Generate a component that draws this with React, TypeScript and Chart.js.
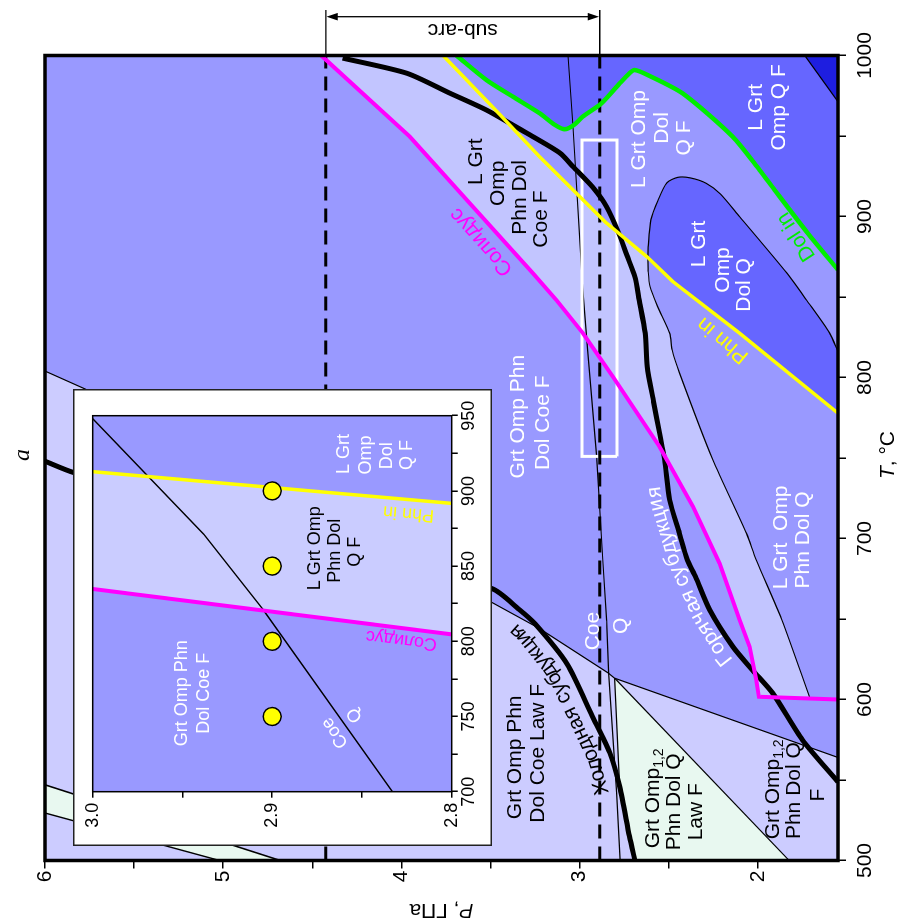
import React, { useEffect, useRef } from 'react';
import { Chart, registerables } from 'chart.js';

Chart.register(...registerables);

type Pt = [number, number]; // [T, °C ; P, GPa]

// ---------- axes ----------
const T_RANGE: Pt = [500, 1000];
const P_RANGE: Pt = [1.55, 6];
const T_TICKS = [500, 550, 600, 650, 700, 750, 800, 850, 900, 950, 1000];
const P_TICKS = [2, 2.5, 3, 3.5, 4, 4.5, 5, 5.5, 6];

const INSET_T_RANGE: Pt = [700, 950];
const INSET_P_RANGE: Pt = [2.8, 3.0];
const INSET_T_TICKS = [700, 725, 750, 775, 800, 825, 850, 875, 900, 925, 950];
const INSET_P_TICKS = [2.8, 2.85, 2.9, 2.95, 3.0];

// ---------- main diagram curves ----------
const SOLIDUS: Pt[] = [[1000, 4.45], [949.6, 3.953], [906, 3.598], [864.7, 3.261], [848, 3.13], [827.5, 2.981], [800.5, 2.813], [757, 2.551], [719.8, 2.364], [684.5, 2.214], [649.4, 2.102], [632.8, 2.046], [612.1, 2.009], [601.7, 1.994], [600, 1.55]];
const PHN_HIGH: Pt[] = [[1000, 3.766], [963.4, 3.448], [937, 3.224], [896, 2.85], [874.5, 2.617]];
const PHN_LOW: Pt[] = [[874.5, 2.617], [859.5, 2.476], [827.5, 2.102], [777.8, 1.55]];
const DOL_IN: Pt[] = [[1000, 3.691], [984.8, 3.523], [974.4, 3.374], [964.1, 3.224], [957, 3.14], [954.2, 3.084], [957, 3.03], [962, 2.983], [970, 2.88], [982.7, 2.775], [989, 2.72], [991, 2.691], [988, 2.62], [976.5, 2.422], [949.6, 2.141], [928.9, 1.99], [916.5, 1.906], [889.8, 1.721], [866.8, 1.55]];
const HOT_SUB: Pt[] = [[998.4, 4.33], [989, 3.97], [976.7, 3.73], [966, 3.52], [952, 3.3], [939.4, 3.11], [931, 3.037], [918.3, 2.927], [906, 2.848], [889.6, 2.78], [876, 2.735], [862.6, 2.69], [848, 2.665], [827.6, 2.632], [806.7, 2.62], [785, 2.585], [765.4, 2.551], [748.8, 2.523], [724, 2.495], [703.3, 2.44], [686.6, 2.395], [676.3, 2.35], [655.6, 2.27], [632.8, 2.14], [618.3, 2.03], [604, 1.917], [574.8, 1.749], [548.8, 1.55]];
const COLD_SUB: Pt[] = [[748, 6.0], [741, 5.84], [669, 3.495], [656, 3.34], [647, 3.25], [622, 3.07], [590, 2.93], [567, 2.831], [545.8, 2.775], [515, 2.72], [500, 2.69]];
const COE_Q: Pt[] = [[1000, 3.065], [955.8, 3.037], [856, 2.983], [817, 2.955], [751, 2.904], [687, 2.87], [649, 2.848], [616.5, 2.837], [542, 2.792], [500, 2.773]];
const ELLIPSE_UPPER: Pt[] = [[816, 1.55], [827.6, 1.597], [848, 1.726], [865, 1.838], [899.9, 2.102], [914, 2.21], [920.6, 2.289], [924, 2.38], [924.3, 2.45], [921, 2.51], [910, 2.56], [898, 2.6], [881, 2.615], [874.5, 2.617]];
const ELLIPSE_LOWER: Pt[] = [[874.5, 2.617], [866, 2.615], [856.6, 2.605], [844, 2.562], [827.6, 2.495], [817, 2.48], [803, 2.44], [749, 2.253], [703, 2.063], [687, 2.01], [650, 1.867], [601.6, 1.71]];
const LAW_UPPER: Pt[] = [[804, 6.0], [792.9, 5.776], [660, 3.487], [644, 3.224], [616.5, 2.84]];
const LAW_RIGHT: Pt[] = [[616.5, 2.84], [613.2, 2.803], [564, 1.55]];
const MINT_LEFT: Pt[] = [[613.2, 2.803], [545.8, 2.775]];
const MINT_RIGHT: Pt[] = [[613.2, 2.803], [500, 1.824]];
const BAND_A: Pt[] = [[547, 6.0], [500, 4.68]];
const BAND_B: Pt[] = [[529.5, 6.0], [500, 5.02]];
const CORNER: Pt[] = [[1000, 1.737], [971.3, 1.55]];
const SUBARC_P = [4.424, 2.887];
const BOX_T = [751, 947.5];
const BOX_P = [2.79, 2.987];

// ---------- inset ----------
const INSET_SOLIDUS: Pt[] = [[834.8, 3.0], [804.6, 2.8]];
const INSET_PHN_IN: Pt[] = [[912.8, 3.0], [891.7, 2.8]];
const INSET_COE_Q: Pt[] = [[948, 3.0], [871, 2.938], [821, 2.905], [700, 2.833]];
const RUN_T = [750, 800, 850, 900];
const RUN_P = [2.9, 2.9, 2.9, 2.9];

// ---------- styles ----------
const FONT = '"Liberation Sans", Arial, Helvetica, sans-serif';
const C_MED = '#9999FF';
const C_LIGHT = '#C2C5FF';
const C_LAV = '#CCCCFF';
const C_DARK = '#6666FF';
const C_VDARK = '#1E1EE0';
const C_MINT = '#E8F8F0';
const C_MAG = '#FF00FF';
const C_YEL = '#FFFF00';
const C_GRN = '#00EE00';
const W = '#FFFFFF';
const K = '#000000';

type Part = { t: string; sub?: boolean; it?: boolean };
type Label = { parts: string | Part[]; T: number; P: number; color: string; angle?: number };

const MAIN_LABELS: Label[] = [
  { parts: 'L Grt', T: 934.0, P: 3.579, color: K },
  { parts: 'Omp', T: 920.6, P: 3.458, color: K },
  { parts: 'Phn Dol', T: 911.9, P: 3.336, color: K },
  { parts: 'Coe F', T: 898.4, P: 3.214, color: K },
  { parts: 'L Grt Omp', T: 948.1, P: 2.663, color: W },
  { parts: 'Dol', T: 955.0, P: 2.534, color: W },
  { parts: 'Q F', T: 948.8, P: 2.411, color: W },
  { parts: 'L Grt', T: 967.8, P: 2.008, color: W },
  { parts: 'Omp Q F', T: 967.8, P: 1.878, color: W },
  { parts: 'L Grt', T: 882.9, P: 2.327, color: W },
  { parts: 'Omp', T: 866.8, P: 2.196, color: W },
  { parts: 'Dol Q', T: 857.5, P: 2.074, color: W },
  { parts: 'Grt Omp Phn', T: 775.7, P: 3.345, color: W },
  { parts: 'Dol Coe F', T: 771.9, P: 3.205, color: W },
  { parts: 'L Grt  Omp', T: 700.7, P: 1.868, color: W },
  { parts: 'Phn Dol Q', T: 699.1, P: 1.747, color: W },
  { parts: 'Coe', T: 642.5, P: 2.921, color: W },
  { parts: 'Q', T: 645.7, P: 2.766, color: W },
  { parts: 'Grt Omp Phn', T: 564.1, P: 3.364, color: K },
  { parts: 'Dol Coe Law F', T: 566.6, P: 3.233, color: K },
  { parts: [{ t: 'Grt Omp' }, { t: '1,2', sub: true }], T: 538.6, P: 2.588, color: K },
  { parts: 'Phn Dol Q', T: 536.5, P: 2.467, color: K },
  { parts: 'Law F', T: 530.3, P: 2.345, color: K },
  { parts: [{ t: 'Grt Omp' }, { t: '1,2', sub: true }], T: 544.2, P: 1.915, color: K },
  { parts: 'Phn Dol Q', T: 543.4, P: 1.794, color: K },
  { parts: 'F', T: 540.7, P: 1.663, color: K },
  { parts: 'Солидус', T: 884.3, P: 3.551, color: C_MAG, angle: -42 },
  { parts: 'Phn in', T: 823.3, P: 2.196, color: C_YEL, angle: -50 },
  { parts: 'Dol in', T: 887.5, P: 1.784, color: C_GRN, angle: -33 },
];

const INSET_LABELS: Label[] = [
  { parts: 'L Grt', T: 924.5, P: 2.86, color: W },
  { parts: 'Omp', T: 923.9, P: 2.848, color: W },
  { parts: 'Dol', T: 923.3, P: 2.836, color: W },
  { parts: 'Q F', T: 923.9, P: 2.825, color: W },
  { parts: 'L Grt Omp', T: 861.8, P: 2.876, color: K },
  { parts: 'Phn Dol', T: 860.2, P: 2.865, color: K },
  { parts: 'Q F', T: 859.6, P: 2.854, color: K },
  { parts: 'Grt Omp Phn', T: 765.4, P: 2.95, color: W },
  { parts: 'Dol Coe F', T: 765.4, P: 2.938, color: W },
  { parts: 'Coe', T: 739.2, P: 2.865, color: W, angle: -35 },
  { parts: 'Q', T: 751, P: 2.854, color: W, angle: -35 },
  { parts: 'Phn in', T: 885.1, P: 2.824, color: C_YEL, angle: -85 },
  { parts: 'Солидус', T: 800.9, P: 2.828, color: C_MAG, angle: -83 },
];

const CURVE_LABELS = [
  { text: 'Горячая субдукция', curve: HOT_SUB, startT: 628, offset: 8, color: W },
  { text: 'Холодная субдукция', curve: COLD_SUB, startT: 544, offset: 12, color: K },
];

// ---------- helpers ----------
const xy = (a: Pt[]) => a.map(([t, p]) => ({ x: t, y: p }));

function lineDs(data: Pt[], color: string, width: number, order: number, extra: any = {}) {
  return {
    data: xy(data), borderColor: color, borderWidth: width, pointRadius: 0, fill: false, order,
    tension: 0, borderJoinStyle: 'round', borderCapStyle: 'butt', ...extra,
  };
}
function polyDs(data: Pt[], color: string, order: number) {
  return {
    data: xy(data), borderColor: 'rgba(0,0,0,0)', borderWidth: 1, backgroundColor: color,
    pointRadius: 0, fill: 'shape', order, tension: 0,
  };
}

function drawRich(ctx: CanvasRenderingContext2D, parts: Part[], x: number, y: number, size: number, color: string, angle = 0, family = FONT) {
  ctx.save();
  ctx.translate(x, y);
  ctx.rotate((angle * Math.PI) / 180);
  ctx.fillStyle = color;
  ctx.textBaseline = 'middle';
  ctx.textAlign = 'left';
  const fontOf = (p: Part) => `${p.it ? 'italic ' : ''}${p.sub ? Math.round(size * 0.68) : size}px ${family}`;
  const widths = parts.map((p) => { ctx.font = fontOf(p); return ctx.measureText(p.t).width; });
  const total = widths.reduce((a, b) => a + b, 0);
  let cx = -total / 2;
  parts.forEach((p, i) => {
    ctx.font = fontOf(p);
    ctx.fillText(p.t, cx, p.sub ? size * 0.3 : 0);
    cx += widths[i];
  });
  ctx.restore();
}

function drawLabels(chart: any, labels: Label[], size: number) {
  const ctx = chart.ctx;
  const xs = chart.scales.x, ys = chart.scales.y;
  labels.forEach((l) => {
    const parts = typeof l.parts === 'string' ? [{ t: l.parts }] : l.parts;
    drawRich(ctx, parts, xs.getPixelForValue(l.T), ys.getPixelForValue(l.P), size, l.color, l.angle || 0);
  });
}

function drawCurveText(chart: any, curve: Pt[], text: string, startT: number, offset: number, color: string, size: number) {
  const ctx: CanvasRenderingContext2D = chart.ctx;
  const xs = chart.scales.x, ys = chart.scales.y;
  const pts = curve.slice().sort((a, b) => a[0] - b[0]).map(([t, p]) => [xs.getPixelForValue(t), ys.getPixelForValue(p)]);
  const cum = [0];
  for (let i = 1; i < pts.length; i++) cum.push(cum[i - 1] + Math.hypot(pts[i][0] - pts[i - 1][0], pts[i][1] - pts[i - 1][1]));
  const at = (s: number) => {
    if (s <= 0) return pts[0];
    for (let i = 1; i < pts.length; i++) {
      if (s <= cum[i]) {
        const f = (s - cum[i - 1]) / (cum[i] - cum[i - 1] || 1);
        return [pts[i - 1][0] + f * (pts[i][0] - pts[i - 1][0]), pts[i - 1][1] + f * (pts[i][1] - pts[i - 1][1])];
      }
    }
    return pts[pts.length - 1];
  };
  const x0 = xs.getPixelForValue(startT);
  let s = 0;
  for (let i = 1; i < pts.length; i++) {
    if (pts[i][0] >= x0) {
      const f = (x0 - pts[i - 1][0]) / (pts[i][0] - pts[i - 1][0] || 1);
      s = cum[i - 1] + f * (cum[i] - cum[i - 1]);
      break;
    }
  }
  ctx.save();
  ctx.font = `${size}px ${FONT}`;
  ctx.fillStyle = color;
  ctx.textAlign = 'center';
  ctx.textBaseline = 'alphabetic';
  for (const ch of text) {
    const w = ctx.measureText(ch).width;
    const a = at(s - 2), b = at(s + w + 2), m = at(s + w / 2);
    let dx = b[0] - a[0], dy = b[1] - a[1];
    const len = Math.hypot(dx, dy) || 1;
    dx /= len; dy /= len;
    const ux = dy, uy = -dx;
    ctx.save();
    ctx.translate(m[0] + ux * offset, m[1] + uy * offset);
    ctx.rotate(Math.atan2(dy, dx));
    ctx.fillText(ch, 0, 0);
    ctx.restore();
    s += w;
  }
  ctx.restore();
}

const mainDecor = {
  id: 'mainDecor',
  beforeDraw(chart: any) {
    const { ctx, chartArea: a } = chart;
    ctx.save();
    ctx.fillStyle = C_MED;
    ctx.fillRect(a.left, a.top, a.right - a.left, a.bottom - a.top);
    ctx.restore();
  },
  afterDatasetsDraw(chart: any) {
    drawLabels(chart, MAIN_LABELS, 21);
    CURVE_LABELS.forEach((c) => drawCurveText(chart, c.curve, c.text, c.startT, c.offset, c.color, 21));
  },
  afterDraw(chart: any) {
    const { ctx, chartArea: a } = chart;
    const ys = chart.scales.y;
    ctx.save();
    ctx.strokeStyle = K;
    ctx.lineWidth = 3.5;
    ctx.strokeRect(a.left, a.top, a.right - a.left, a.bottom - a.top);
    // sub-arc arrow
    const y1 = ys.getPixelForValue(SUBARC_P[0]);
    const y2 = ys.getPixelForValue(SUBARC_P[1]);
    const xa = a.right + 38.8;
    ctx.lineWidth = 1.3;
    ctx.beginPath();
    ctx.moveTo(a.right, y1); ctx.lineTo(a.right + 45.5, y1);
    ctx.moveTo(a.right, y2); ctx.lineTo(a.right + 45.5, y2);
    ctx.moveTo(xa, y1 + 10); ctx.lineTo(xa, y2 - 10);
    ctx.stroke();
    ctx.fillStyle = K;
    ctx.beginPath();
    ctx.moveTo(xa, y1 + 0.7); ctx.lineTo(xa - 3.8, y1 + 12); ctx.lineTo(xa + 3.8, y1 + 12); ctx.closePath();
    ctx.moveTo(xa, y2 - 0.7); ctx.lineTo(xa - 3.8, y2 - 12); ctx.lineTo(xa + 3.8, y2 - 12); ctx.closePath();
    ctx.fill();
    ctx.restore();
    drawRich(ctx, [{ t: 'sub-arc' }], a.right + 26, (y1 + y2) / 2, 21, K, -90);
    drawRich(ctx, [{ t: 'a', it: true }], 467, 23, 24, K, 0, '"Liberation Serif", "DejaVu Serif", serif');
    drawRich(ctx, [{ t: 'T', it: true }, { t: ', °C' }], 467, 888, 21, K, 0);
    drawRich(ctx, [{ t: 'P', it: true }, { t: ', ГПа' }], 12, (a.top + a.bottom) / 2, 21, K, -90);
  },
};

const insetDecor = {
  id: 'insetDecor',
  beforeDraw(chart: any) {
    const { ctx, chartArea: a, width, height } = chart;
    ctx.save();
    ctx.fillStyle = '#FFFFFF';
    ctx.fillRect(0, 0, width, height);
    ctx.strokeStyle = '#222';
    ctx.lineWidth = 1.5;
    ctx.strokeRect(0.75, 0.75, width - 1.5, height - 1.5);
    ctx.fillStyle = C_MED;
    ctx.fillRect(a.left, a.top, a.right - a.left, a.bottom - a.top);
    ctx.restore();
  },
  afterDatasetsDraw(chart: any) {
    drawLabels(chart, INSET_LABELS, 18);
  },
  afterDraw(chart: any) {
    const { ctx, chartArea: a } = chart;
    ctx.save();
    ctx.strokeStyle = K;
    ctx.lineWidth = 1.5;
    ctx.strokeRect(a.left, a.top, a.right - a.left, a.bottom - a.top);
    ctx.restore();
  },
};

function axisOpts(range: Pt, ticks: number[], label: (v: number) => string, size: number, tickLen: number, pad: number, fit: (s: any) => void) {
  return {
    type: 'linear',
    min: range[0],
    max: range[1],
    afterBuildTicks: (s: any) => { s.ticks = ticks.map((v) => ({ value: v })); },
    afterFit: fit,
    grid: { drawOnChartArea: false, drawTicks: true, tickLength: tickLen, color: K, lineWidth: 1.5 },
    border: { display: false },
    ticks: { callback: (v: number) => label(v), font: { size, family: FONT }, color: K, padding: pad, maxRotation: 0, autoSkip: false },
  };
}

export default function App() {
  const mainRef = useRef<HTMLCanvasElement>(null);
  const insetRef = useRef<HTMLCanvasElement>(null);

  useEffect(() => {
    Chart.defaults.font.family = FONT;
    const boxPoly: Pt[] = [[BOX_T[0], BOX_P[0]], [BOX_T[1], BOX_P[0]], [BOX_T[1], BOX_P[1]], [BOX_T[0], BOX_P[1]], [BOX_T[0], BOX_P[0]]];
    const light: Pt[] = [...SOLIDUS.slice(0, -1), ...ELLIPSE_LOWER.slice().reverse(), ...PHN_HIGH.slice().reverse().slice(1)];
    const lavender: Pt[] = [...LAW_UPPER, ...LAW_RIGHT.slice(1), [T_RANGE[0], P_RANGE[0]], [T_RANGE[0], P_RANGE[1]]];
    const mint1: Pt[] = [MINT_LEFT[0], MINT_LEFT[1], ...COLD_SUB.filter((p) => p[0] < MINT_LEFT[1][0]), MINT_RIGHT[1]];
    const mint2: Pt[] = [BAND_A[0], BAND_A[1], BAND_B[1], BAND_B[0]];
    const dark1: Pt[] = [...DOL_IN, [T_RANGE[1], P_RANGE[0]]];
    const dark2: Pt[] = [...ELLIPSE_UPPER, ...PHN_LOW.slice(1)];
    const corner: Pt[] = [CORNER[0], CORNER[1], [T_RANGE[1], P_RANGE[0]]];
    const smooth = { tension: 0.25 };

    const datasets: any[] = [
      polyDs(lavender, C_LAV, 100),
      polyDs(mint1, C_MINT, 99),
      polyDs(mint2, C_MINT, 98),
      polyDs(light, C_LIGHT, 97),
      polyDs(dark1, C_DARK, 96),
      polyDs(dark2, C_DARK, 95),
      polyDs(corner, C_VDARK, 94),
      lineDs(COE_Q, K, 1.2, 30),
      lineDs([...ELLIPSE_UPPER, ...ELLIPSE_LOWER.slice(1)], K, 1.2, 30, smooth),
      lineDs(LAW_UPPER, K, 1.2, 30),
      lineDs(LAW_RIGHT, K, 1.2, 30),
      lineDs(MINT_LEFT, K, 1.2, 30),
      lineDs(MINT_RIGHT, K, 1.2, 30),
      lineDs(BAND_A, K, 1.6, 30),
      lineDs(BAND_B, K, 1.4, 30),
      lineDs(CORNER, K, 1.2, 30),
      lineDs(boxPoly, W, 3, 20, { borderJoinStyle: 'miter' }),
      ...SUBARC_P.map((p) => lineDs([[T_RANGE[0], p], [T_RANGE[1], p]], K, 3, 18, { borderDash: [14, 8] })),
      lineDs(HOT_SUB, K, 5, 14, smooth),
      lineDs(COLD_SUB, K, 5, 13, smooth),
      lineDs(SOLIDUS, C_MAG, 4, 12, { borderJoinStyle: 'miter' }),
      lineDs([...PHN_HIGH, ...PHN_LOW.slice(1)], C_YEL, 3.5, 11),
      lineDs(DOL_IN, C_GRN, 4.5, 10, smooth),
    ];

    const main = new Chart(mainRef.current as HTMLCanvasElement, {
      type: 'line',
      data: { datasets },
      options: {
        responsive: false,
        animation: false,
        devicePixelRatio: 1,
        events: [],
        layout: { padding: { left: 0, right: 55.5, top: 45, bottom: 0 } },
        plugins: { legend: { display: false }, tooltip: { enabled: false }, filler: { drawTime: 'beforeDatasetsDraw', propagate: false } },
        scales: {
          x: axisOpts(T_RANGE, T_TICKS, (v) => (v % 100 === 0 ? String(v) : ''), 21, 8, 7, (s: any) => { s.height = 65; }),
          y: axisOpts(P_RANGE, P_TICKS, (v) => (Number.isInteger(v) ? String(v) : ''), 21, 8, 2, (s: any) => { s.width = 61.5; }),
        },
      } as any,
      plugins: [mainDecor],
    } as any);

    const insetLight: Pt[] = [INSET_SOLIDUS[0], INSET_PHN_IN[0], INSET_PHN_IN[1], INSET_SOLIDUS[1]];
    const inset = new Chart(insetRef.current as HTMLCanvasElement, {
      type: 'line',
      data: {
        datasets: [
          polyDs(insetLight, '#CACCFF', 50),
          lineDs(INSET_COE_Q, K, 1.5, 20),
          lineDs(INSET_SOLIDUS, C_MAG, 4, 15),
          lineDs(INSET_PHN_IN, C_YEL, 3.5, 14),
          {
            data: RUN_T.map((t, i) => ({ x: t, y: RUN_P[i] })),
            showLine: false, pointRadius: 9, pointBackgroundColor: '#FFFF00', pointBorderColor: K,
            pointBorderWidth: 1.5, fill: false, order: 1,
          },
        ],
      },
      options: {
        responsive: false,
        animation: false,
        devicePixelRatio: 1,
        events: [],
        layout: { padding: { left: 0, right: 26.7, top: 19.7, bottom: 0 } },
        plugins: { legend: { display: false }, tooltip: { enabled: false }, filler: { drawTime: 'beforeDatasetsDraw', propagate: false } },
        scales: {
          x: axisOpts(INSET_T_RANGE, INSET_T_TICKS, (v) => (v % 50 === 0 ? String(v) : ''), 18, 6, 1, (s: any) => { s.height = 40.3; }),
          y: axisOpts(INSET_P_RANGE, INSET_P_TICKS, (v) => (Math.abs(v * 10 - Math.round(v * 10)) < 1e-6 ? v.toFixed(1) : ''), 18, 6, 5, (s: any) => { s.width = 54.3; }),
        },
      } as any,
      plugins: [insetDecor],
    } as any);

    return () => {
      main.destroy();
      inset.destroy();
    };
  }, []);

  return (
    <div
      style={{
        position: 'fixed', left: 0, top: 0, width: 922, height: 903,
        transformOrigin: '0 0', transform: 'translate(0px, 922px) rotate(-90deg)', background: '#fff',
      }}
    >
      <canvas ref={mainRef} width={922} height={903} style={{ position: 'absolute', left: 0, top: 0, width: 922, height: 903 }} />
      <canvas ref={insetRef} width={457} height={419} style={{ position: 'absolute', left: 76, top: 73, width: 457, height: 419 }} />
    </div>
  );
}
